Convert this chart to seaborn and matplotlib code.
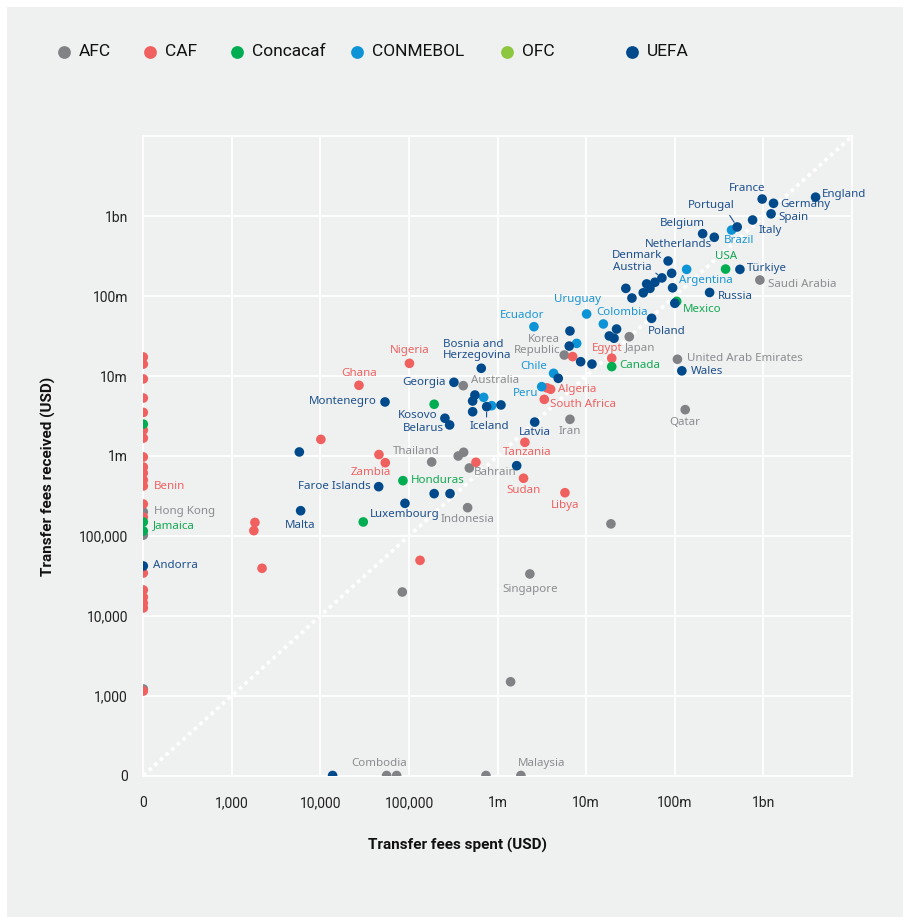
import pandas as pd
import seaborn as sns
import matplotlib.pyplot as plt
from matplotlib.lines import Line2D
from matplotlib.patches import Rectangle
from matplotlib.ticker import NullLocator

# --- Data: transfer fees spent / received (USD) per country, by confederation ---
confederations = ["AFC", "CAF", "Concacaf", "CONMEBOL", "OFC", "UEFA"]

afc_names = ["Saudi Arabia", "Japan", "Korea Republic", "United Arab Emirates", "Qatar", "Iran",
             "Australia", "Thailand", "", "", "Bahrain", "Indonesia", "Singapore", "", "", "",
             "Combodia", "", "", "Malaysia", "Hong Kong", "", ""]
afc_spent = [912e6, 30.6e6, 5.65e6, 107e6, 131e6, 6.55e6,
             409e3, 180e3, 359e3, 413e3, 479e3, 458e3, 2.31e6, 83.8e3, 19e6, 1.40e6,
             55.8e3, 72.4e3, 738e3, 1.83e6, 0, 0, 0]
afc_received = [159e6, 31e6, 18.3e6, 16.2e6, 3.79e6, 2.87e6,
                7.57e6, 839e3, 997e3, 1.11e6, 706e3, 225e3, 33.3e3, 19.8e3, 141e3, 1490,
                0, 0, 0, 0, 199e3, 102e3, 1210]

caf_names = ["Nigeria", "Ghana", "", "", "Zambia", "", "", "", "", "", "Tanzania", "Sudan",
             "Libya", "", "Algeria", "South Africa", "Egypt", "", "Benin",
             "", "", "", "", "", "", "", "", "", "", "", "", "", "", "", "", "", "", ""]
caf_spent = [101e3, 27.2e3, 10.1e3, 45.7e3, 53.9e3, 1820, 1770, 2190, 133e3, 569e3, 2.03e6, 1.96e6,
             5.75e6, 3.6e6, 3.96e6, 3.36e6, 19.4e6, 7.02e6, 0,
             0, 0, 0, 0, 0, 0, 0, 0, 0, 0, 0, 0, 0, 0, 0, 0, 0, 0, 0]
caf_received = [14.4e6, 7.65e6, 1.61e6, 1.04e6, 822e3, 147e3, 116e3, 39.2e3, 49.3e3, 832e3, 1.48e6, 525e3,
                346e3, 7.1e6, 6.82e6, 5.1e6, 16.7e6, 17.5e6, 420e3,
                17.3e6, 14.1e6, 9.2e6, 5.3e6, 3.5e6, 2.1e6, 1.67e6, 970e3, 726e3, 611e3, 499e3,
                250e3, 172e3, 34.2e3, 21e3, 17.1e3, 14.4e3, 12.5e3, 1140]

concacaf_names = ["USA", "Mexico", "Canada", "Honduras", "", "", "Jamaica", "", ""]
concacaf_spent = [374e6, 105e6, 19.4e6, 85.3e3, 30.4e3, 192e3, 0, 0, 0]
concacaf_received = [218e6, 86e6, 13.1e6, 490e3, 149e3, 4.43e6, 149e3, 2.5e6, 115e3]

conmebol_names = ["Brazil", "Argentina", "Uruguay", "Colombia", "Ecuador", "", "Chile", "Peru", "", ""]
conmebol_spent = [437e6, 136e6, 10.1e6, 15.6e6, 2.57e6, 7.8e6, 4.28e6, 3.14e6, 695e3, 855e3]
conmebol_received = [671e6, 216e6, 59.7e6, 44.8e6, 41.4e6, 25.6e6, 10.8e6, 7.35e6, 5.4e6, 4.25e6]

ofc_names = []
ofc_spent = []
ofc_received = []

uefa_names = ["France", "Germany", "England", "Spain", "Italy", "Portugal", "Belgium", "Netherlands",
              "Denmark", "", "Austria", "", "", "", "", "", "", "", "Russia", "Türkiye", "", "Poland",
              "", "", "", "", "", "", "", "Wales", "", "Bosnia and Herzegovina", "Georgia", "Montenegro",
              "", "", "", "Iceland", "", "Kosovo", "Belarus", "Latvia", "", "Faroe Islands", "Malta",
              "Luxembourg", "", "", "", "Andorra", ""]
uefa_spent = [968e6, 1.30e9, 3.88e9, 1.22e9, 755e6, 506e6, 206e6, 279e6,
              84e6, 92e6, 71.5e6, 59.6e6, 52.4e6, 48.1e6, 44e6, 28e6, 32.8e6, 94.4e6, 247e6, 543e6, 100e6, 54.7e6,
              6.55e6, 6.43e6, 8.65e6, 11.6e6, 18.2e6, 20.6e6, 22e6, 120e6, 4.83e6, 653e3, 321e3, 53.5e3,
              554e3, 522e3, 522e3, 752e3, 1.09e6, 254e3, 287e3, 2.62e6, 5770, 45.4e3, 5970,
              89.9e3, 192e3, 290e3, 1.64e6, 0, 13.7e3]
uefa_received = [1.64e9, 1.45e9, 1.73e9, 1.07e9, 896e6, 733e6, 604e6, 545e6,
                 275e6, 193e6, 169e6, 149e6, 125e6, 142e6, 110e6, 125e6, 94.6e6, 127e6, 111e6, 216e6, 81.3e6, 52.7e6,
                 36.6e6, 23.7e6, 15.1e6, 14.1e6, 31.7e6, 29.7e6, 38.7e6, 11.6e6, 9.35e6, 12.5e6, 8.34e6, 4.73e6,
                 5.78e6, 4.86e6, 3.57e6, 4.13e6, 4.34e6, 2.96e6, 2.44e6, 2.65e6, 1.12e6, 412e3, 206e3,
                 255e3, 337e3, 337e3, 754e3, 41.9e3, 0]

x_ticks = [1e2, 1e3, 1e4, 1e5, 1e6, 1e7, 1e8, 1e9]
x_tick_labels = ["0", "1,000", "10,000", "100,000", "1m", "10m", "100m", "1bn"]
y_ticks = x_ticks
y_tick_labels = x_tick_labels

# --- Styling ---
BG = "#eff1f0"
point_colors = {"AFC": "#818286", "CAF": "#f0605f", "Concacaf": "#00ad50",
                "CONMEBOL": "#0d94d7", "OFC": "#8dc63f", "UEFA": "#004a8c"}
text_colors = {"AFC": "#8b8c90", "CAF": "#ee6262", "Concacaf": "#13a852",
               "CONMEBOL": "#1a96d6", "OFC": "#8dc63f", "UEFA": "#1d4f8d"}

# label placement: (dx px, dy px (down), ha)
label_pos = {
    "France": (3, -11, "right"), "Germany": (7, 1, "left"), "England": (6, -3, "left"),
    "Spain": (7, 4, "left"), "Italy": (6, 10, "left"), "Portugal": (-3, -21, "right"),
    "Belgium": (2, -10, "right"), "Netherlands": (-2, 7, "right"), "Brazil": (-8, 10, "left"),
    "Denmark": (-6, -5, "right"), "Austria": (-10, -10, "right"), "USA": (0, -13, "center"),
    "Argentina": (-8, 11, "left"), "Türkiye": (7, -1, "left"), "Saudi Arabia": (8, 4, "left"),
    "Russia": (8, 4, "left"), "Mexico": (6, 8, "left"), "Uruguay": (-9, -14, "center"),
    "Colombia": (-7, -11, "left"), "Ecuador": (-12, -11, "center"), "Poland": (-4, 13, "left"),
    "Korea Republic": (-4, -10, "right"), "Egypt": (-5, -10, "center"), "Japan": (-4, 12, "left"),
    "Canada": (8, -1, "left"), "United Arab Emirates": (10, -1, "left"), "Wales": (9, 1, "left"),
    "Qatar": (0, 13, "center"), "Nigeria": (0, -13, "center"),
    "Bosnia and Herzegovina": (-38, -18, "left"), "Ghana": (0, -12, "center"),
    "Georgia": (-8, 0, "right"), "Australia": (8, -5, "left"), "Chile": (-6, -7, "right"),
    "Algeria": (7, 0, "left"), "Peru": (-3, 7, "right"), "South Africa": (6, 5, "left"),
    "Montenegro": (-8, 0, "right"), "Kosovo": (-7, -3, "right"), "Belarus": (-6, 4, "right"),
    "Iceland": (3, 20, "center"), "Latvia": (0, 10, "center"), "Iran": (0, 12, "center"),
    "Tanzania": (2, 10, "center"), "Thailand": (8, -10, "right"), "Zambia": (6, 10, "right"),
    "Bahrain": (5, 5, "left"), "Honduras": (8, 0, "left"), "Faroe Islands": (-8, 0, "right"),
    "Sudan": (0, 12, "center"), "Libya": (0, 13, "center"), "Luxembourg": (0, 11, "center"),
    "Indonesia": (0, 12, "center"), "Malta": (0, 15, "center"), "Benin": (11, 0, "left"),
    "Hong Kong": (11, 0, "left"), "Jamaica": (10, 4, "left"), "Andorra": (10, 0, "left"),
    "Singapore": (0, 16, "center"), "Combodia": (-7, -12, "center"), "Malaysia": (-3, -12, "left"),
}
wrapped = {"Korea Republic": "Korea\nRepublic", "Bosnia and Herzegovina": "Bosnia and\nHerzegovina"}
leaders = {"Portugal": (0.85, 0.0), "Austria": (1.0, 0.3), "Iceland": (0.42, 1.0)}
legend_x_px = [64, 150, 237, 357, 507, 632]

# --- Build the DataFrame ---
frames = []
for conf, names, spent, received in [
    ("AFC", afc_names, afc_spent, afc_received),
    ("CAF", caf_names, caf_spent, caf_received),
    ("Concacaf", concacaf_names, concacaf_spent, concacaf_received),
    ("CONMEBOL", conmebol_names, conmebol_spent, conmebol_received),
    ("OFC", ofc_names, ofc_spent, ofc_received),
    ("UEFA", uefa_names, uefa_spent, uefa_received),
]:
    frames.append(pd.DataFrame({"name": names, "spent": spent, "received": received, "confed": conf}))
df = pd.concat(frames, ignore_index=True)
# zero sits at the axis floor (shown as "0")
df["x"] = df["spent"].clip(lower=100)
df["y"] = df["received"].clip(lower=100)

# --- Figure ---
plt.rcParams["font.family"] = ["Roboto", "DejaVu Sans"]
fig = plt.figure(figsize=(9.04, 9.17), dpi=100)
fig.patch.set_facecolor("white")
fig.add_artist(Rectangle((7 / 904, 0), 1, 1 - 7 / 917, transform=fig.transFigure,
                         facecolor=BG, edgecolor="none", zorder=-10))
ax = fig.add_axes([143.3 / 904, 1 - 775.5 / 917, (852 - 143.3) / 904, (775.5 - 136.3) / 917])
ax.set_facecolor(BG)

# diagonal y = x
ax.plot([1e2, 1e10], [1e2, 1e10], color="white", lw=2.6, ls=(0, (1, 1.1)), zorder=1)

sns.scatterplot(data=df, x="x", y="y", hue="confed", hue_order=confederations,
                palette=point_colors, s=48, linewidth=0, legend=False, ax=ax, zorder=3)

ax.set_xscale("log")
ax.set_yscale("log")
ax.set_xlim(1e2, 1e10)
ax.set_ylim(1e2, 1e10)
ax.set_xticks(x_ticks)
ax.set_xticklabels(x_tick_labels)
ax.set_yticks(y_ticks)
ax.set_yticklabels(y_tick_labels)
ax.xaxis.set_minor_locator(NullLocator())
ax.yaxis.set_minor_locator(NullLocator())
ax.tick_params(length=0, labelsize=10, colors="#222222")
ax.tick_params(axis="x", pad=15)
ax.tick_params(axis="y", pad=11)
ax.grid(True, color="white", lw=1.3, zorder=0)
ax.set_axisbelow(True)
for s in ax.spines.values():
    s.set_color("white")
    s.set_linewidth(1.3)
ax.set_xlabel("")
ax.set_ylabel("")

# country labels
PX = 0.72
for _, r in df[df["name"] != ""].iterrows():
    dx, dy, ha = label_pos[r["name"]]
    arrow = None
    if r["name"] in leaders:
        arrow = dict(arrowstyle="-", color=text_colors[r["confed"]], lw=0.8,
                     shrinkA=1, shrinkB=4, relpos=leaders[r["name"]])
    ax.annotate(wrapped.get(r["name"], r["name"]), (r["x"], r["y"]),
                xytext=(dx * PX, -dy * PX), textcoords="offset points",
                ha=ha, va="center", fontsize=8.3, family=["Noto Sans", "DejaVu Sans"],
                color=text_colors[r["confed"]], linespacing=0.95,
                arrowprops=arrow, annotation_clip=False, zorder=4)

# axis titles
fig.text(458 / 904, 1 - 845 / 917, "Transfer fees spent (USD)", ha="center", va="center",
         fontsize=11, fontweight="bold", color="#111111")
fig.text(48 / 904, 1 - 476 / 917, "Transfer fees received (USD)", ha="center", va="center",
         rotation=90, fontsize=11, fontweight="bold", color="#111111")

# legend row
ly = 1 - 52 / 917
for conf, lx in zip(confederations, legend_x_px):
    fig.add_artist(Line2D([lx / 904], [ly], transform=fig.transFigure, ls="", marker="o",
                          markersize=9.2, markeredgewidth=0, color=point_colors[conf]))
    fig.text((lx + 15) / 904, ly, conf, ha="left", va="center", fontsize=12.5, color="#111111")

plt.savefig("out.png", dpi=100, facecolor=fig.get_facecolor())
